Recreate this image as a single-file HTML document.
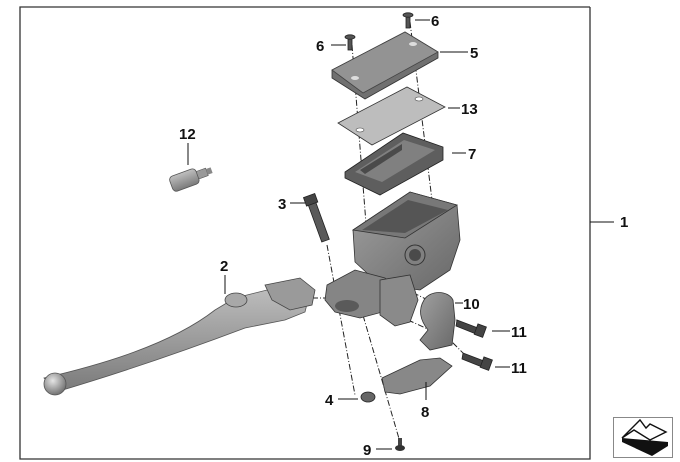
<!DOCTYPE html>
<html><head><meta charset="utf-8"><style>
html,body{margin:0;padding:0;background:#fff}
svg{display:block}
text{font-family:"Liberation Sans",Arial,sans-serif;font-weight:bold;font-size:15px;fill:#111}
</style></head><body>
<svg width="680" height="462" viewBox="0 0 680 462" xmlns="http://www.w3.org/2000/svg">
<defs>
<linearGradient id="g1" x1="0" y1="0" x2="0" y2="1"><stop offset="0" stop-color="#c0c0c0"/><stop offset="1" stop-color="#7a7a7a"/></linearGradient>
<linearGradient id="g2" x1="0" y1="0" x2="1" y2="1"><stop offset="0" stop-color="#a0a0a0"/><stop offset="1" stop-color="#686868"/></linearGradient>
<radialGradient id="gb" cx="0.4" cy="0.35" r="0.7"><stop offset="0" stop-color="#e5e5e5"/><stop offset="1" stop-color="#6a6a6a"/></radialGradient>
</defs>
<polyline points="590,7 20,7 20,459 590,459 590,7" fill="none" stroke="#333" stroke-width="1.3"/>
<line x1="590" y1="222" x2="614" y2="222" stroke="#111"/>
<text x="620" y="227">1</text>
<rect x="613.5" y="417.5" width="59" height="40" fill="#fff" stroke="#888"/>
<path d="M622,438 L622,442 L652,456 L668,446 L668,442 Z" fill="#111"/>
<path d="M622,438 L634,430 L650,440 L666,432 L650,424 L646,428 L640,420 Z" fill="#fff" stroke="#111" stroke-width="1.4"/>

<g stroke="#222" stroke-width="1" stroke-dasharray="6,2,1,2" fill="none">
<line x1="352" y1="45" x2="372" y2="300"/>
<line x1="410" y1="22" x2="432" y2="200"/>
<line x1="327" y1="245" x2="355" y2="395"/>
<line x1="360" y1="305" x2="400" y2="442"/>
<line x1="290" y1="298" x2="345" y2="298"/>
<line x1="403" y1="288" x2="428" y2="300"/>
<line x1="408" y1="320" x2="430" y2="330"/>
<line x1="440" y1="305" x2="460" y2="323"/>
<line x1="445" y1="335" x2="465" y2="355"/>
</g>

<g fill="#555" stroke="#222" stroke-width="0.8">
<rect x="406" y="16" width="4" height="12"/><ellipse cx="408" cy="15" rx="5" ry="2.2"/>
<rect x="348" y="38" width="4" height="12"/><ellipse cx="350" cy="37" rx="5" ry="2.2"/>
</g>
<polygon points="332,70 405,32 438,52 438,58 365,99 332,78" fill="#707070" stroke="#333" stroke-width="0.8"/>
<polygon points="332,70 405,32 438,52 363,93" fill="#939393" stroke="#444" stroke-width="0.8"/>
<ellipse cx="355" cy="78" rx="4" ry="2" fill="#ddd"/><ellipse cx="413" cy="44" rx="4" ry="2" fill="#ddd"/>
<polygon points="338,123 407,87 445,107 372,145" fill="#bdbdbd" stroke="#333" stroke-width="0.8"/>
<ellipse cx="360" cy="130" rx="4" ry="2" fill="#fff" stroke="#444" stroke-width="0.6"/>
<ellipse cx="419" cy="99" rx="4" ry="2" fill="#fff" stroke="#444" stroke-width="0.6"/>
<polygon points="345,172 403,133 443,147 443,160 380,195 345,178" fill="#5e5e5e" stroke="#222" stroke-width="0.8"/>
<polygon points="355,172 404,140 435,150 382,182" fill="#808080"/>
<polygon points="360,170 402,144 402,150 365,174" fill="#4a4a4a"/>
<g transform="rotate(-20 190 178)">
<rect x="170" y="170" width="28" height="16" rx="4" fill="url(#g1)" stroke="#555" stroke-width="0.8"/>
<rect x="198" y="174" width="10" height="8" fill="#999" stroke="#555" stroke-width="0.6"/>
<rect x="208" y="175" width="5" height="6" fill="#888"/>
</g>
<g transform="rotate(-20 318 220)">
<rect x="314" y="200" width="8" height="42" fill="#5a5a5a" stroke="#222" stroke-width="0.8"/>
<rect x="312" y="194" width="12" height="9" fill="#444" stroke="#222" stroke-width="0.8"/>
</g>
<polygon points="353,230 410,192 457,205 460,240 450,270 420,290 380,285 355,262" fill="url(#g2)" stroke="#333" stroke-width="0.8"/>
<polygon points="353,230 410,192 457,205 405,238" fill="#787878" stroke="#333" stroke-width="0.8"/>
<polygon points="362,230 408,200 448,210 405,233" fill="#555"/>
<circle cx="415" cy="255" r="10" fill="#808080" stroke="#333"/>
<circle cx="415" cy="255" r="6" fill="#4a4a4a"/>
<polygon points="327,285 355,270 385,278 400,290 390,310 360,318 335,312 325,300" fill="#858585" stroke="#333" stroke-width="0.8"/>
<polygon points="380,280 410,275 418,300 410,322 395,326 380,315" fill="#8a8a8a" stroke="#333" stroke-width="0.8"/>
<ellipse cx="347" cy="306" rx="12" ry="6" fill="#5a5a5a"/>
<path d="M44,378 C100,365 170,345 215,310 L235,298 L295,283 L310,292 L305,312 L285,320 L245,328 C200,345 130,370 56,392 Z" fill="url(#g1)" stroke="#555" stroke-width="0.8"/>
<path d="M265,285 L300,278 L315,290 L312,305 L290,310 L272,300 Z" fill="#9a9a9a" stroke="#444" stroke-width="0.8"/>
<ellipse cx="236" cy="300" rx="11" ry="7" fill="#a8a8a8" stroke="#444" stroke-width="0.8"/>
<circle cx="55" cy="384" r="11" fill="url(#gb)" stroke="#555" stroke-width="0.8"/>
<path d="M424,300 C430,290 448,290 453,300 L455,320 L452,345 L430,350 L420,340 L428,330 C420,320 418,310 424,300 Z" fill="url(#g2)" stroke="#333" stroke-width="0.8"/>
<g fill="#444" stroke="#222" stroke-width="0.8">
<polygon points="457,320 478,328 476,334 456,326"/><rect x="476" y="325" width="9" height="11" transform="rotate(20 480 330)"/>
<polygon points="463,353 484,361 482,367 462,359"/><rect x="482" y="358" width="9" height="11" transform="rotate(20 486 363)"/>
</g>
<path d="M382,378 L420,360 L440,358 L452,366 L430,386 L400,394 L385,392 Z" fill="#888" stroke="#333" stroke-width="0.8"/>
<ellipse cx="368" cy="397" rx="7" ry="5" fill="#666" stroke="#222" stroke-width="0.8"/>
<rect x="398" y="438" width="4" height="8" fill="#444"/><ellipse cx="400" cy="448" rx="5" ry="3" fill="#333"/>

<g stroke="#111" stroke-width="1">
<line x1="415" y1="20" x2="430" y2="20"/>
<line x1="331" y1="45" x2="346" y2="45"/>
<line x1="440" y1="52" x2="468" y2="52"/>
<line x1="448" y1="108" x2="460" y2="108"/>
<line x1="452" y1="153" x2="466" y2="153"/>
<line x1="188" y1="143" x2="188" y2="165"/>
<line x1="290" y1="203" x2="305" y2="203"/>
<line x1="225" y1="275" x2="225" y2="294"/>
<line x1="455" y1="303" x2="463" y2="303"/>
<line x1="492" y1="331" x2="510" y2="331"/>
<line x1="495" y1="367" x2="510" y2="367"/>
<line x1="426" y1="382" x2="426" y2="400"/>
<line x1="338" y1="399" x2="358" y2="399"/>
<line x1="376" y1="449" x2="392" y2="449"/>
</g>
<text x="431" y="26">6</text>
<text x="316" y="51">6</text>
<text x="470" y="58">5</text>
<text x="461" y="114">13</text>
<text x="468" y="159">7</text>
<text x="179" y="139">12</text>
<text x="278" y="209">3</text>
<text x="220" y="271">2</text>
<text x="463" y="309">10</text>
<text x="511" y="337">11</text>
<text x="511" y="373">11</text>
<text x="421" y="417">8</text>
<text x="325" y="405">4</text>
<text x="363" y="455">9</text>
</svg>
</body></html>
